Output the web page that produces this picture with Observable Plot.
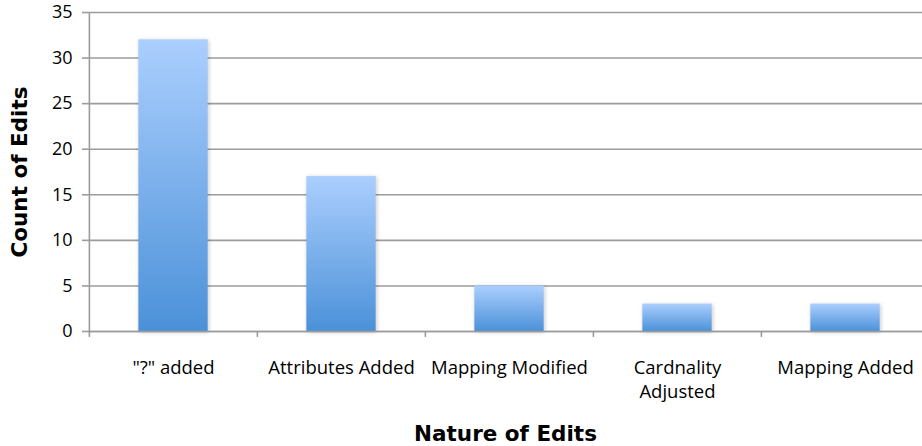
<!DOCTYPE html>
<html>
<head>
<meta charset="utf-8">
<script src="https://cdn.jsdelivr.net/npm/d3@7"></script>
<script src="https://cdn.jsdelivr.net/npm/@observablehq/plot@0.6"></script>
<style>
  html, body { margin: 0; padding: 0; background: #fff; }
  #chart svg { display: block; }
</style>
</head>
<body>
<div id="chart"></div>
<script>
// Edit categories and how many times each occurred
const categories = ["\"?\" added", "Attributes Added", "Mapping Modified", "Cardnality\nAdjusted", "Mapping Added"];
const counts = [32, 17, 5, 3, 3];
const yTicks = [0, 5, 10, 15, 20, 25, 30, 35];

const data = categories.map((c, i) => ({category: c, count: counts[i]}));

const W = 922, H = 446;
const mL = 88, mT = 12, mB = 115;
// the category band runs slightly past the right edge of the page
const xRange = [mL, 929];
const step = (xRange[1] - xRange[0]) / categories.length;
const barInset = (step - 69.5) / 2;
const grid = "#9c9c9c";
const font = "'Open Sans', sans-serif";
const titleFont = "'DejaVu Sans', Verdana, sans-serif";

const chart = Plot.plot({
  width: W,
  height: H,
  marginLeft: mL,
  marginRight: 0,
  marginTop: mT,
  marginBottom: mB,
  style: {fontFamily: font, fontSize: "16px", color: "#000", background: "#fff"},
  x: {domain: categories, range: xRange, padding: 0, label: null},
  y: {domain: [0, 35], label: null},
  marks: [
    Plot.gridY(yTicks, {stroke: grid, strokeOpacity: 1, strokeWidth: 1.6}),
    // vertical value axis line
    Plot.ruleX([categories[0]], {y1: 0, y2: 35, dx: -step / 2, stroke: grid, strokeWidth: 1.6}),
    Plot.axisY({ticks: yTicks, tickSize: 6, tickPadding: 10, stroke: grid, strokeWidth: 1.6, fontSize: 18, label: null}),
    Plot.barY(data, {
      x: "category",
      y: "count",
      insetLeft: barInset,
      insetRight: barInset,
      fill: "url(#barFill)",
      className: "bars"
    }),
    // category boundary ticks below the baseline
    Plot.axisX({tickSize: 6, tickFormat: () => "", dx: -step / 2, stroke: grid, strokeWidth: 1.6, label: null}),
    Plot.ruleY([0], {stroke: grid, strokeWidth: 1.6}),
    Plot.axisX({tickSize: 0, tickPadding: 26, fontSize: 18.5, lineHeight: 1.28, label: null}),
    Plot.text(["Nature of Edits"], {frameAnchor: "bottom", dy: 109, fontSize: 21.5, fontWeight: "bold", fontFamily: titleFont}),
    Plot.text(["Count of Edits"], {frameAnchor: "left", textAnchor: "middle", dx: -68, rotate: -90, fontSize: 21.5, fontWeight: "bold", fontFamily: titleFont})
  ]
});

// vertical gradient shared by the bars
const svg = d3.select(chart);
const defs = svg.insert("defs", ":first-child");
const g = defs.append("linearGradient")
  .attr("id", "barFill")
  .attr("x1", 0).attr("y1", 0).attr("x2", 0).attr("y2", 1);
g.append("stop").attr("offset", "0%").attr("stop-color", "#abcffe");
g.append("stop").attr("offset", "100%").attr("stop-color", "#4b91d8");
svg.selectAll(".bars").style("filter", "drop-shadow(1px 1px 2px rgba(0,0,0,0.22))");

document.getElementById("chart").appendChild(chart);
</script>
</body>
</html>
